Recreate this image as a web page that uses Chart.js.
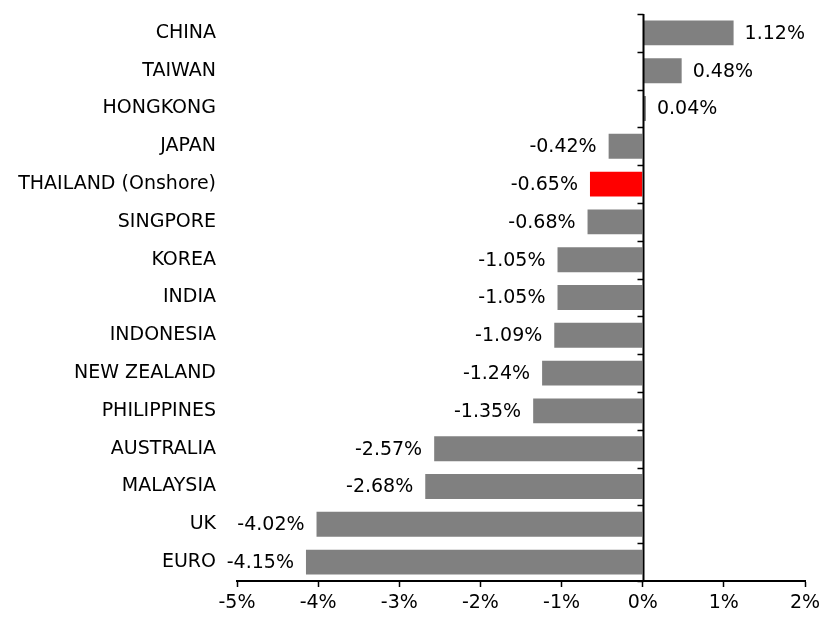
<!DOCTYPE html>
<html>
<head>
<meta charset="utf-8">
<script src="https://cdn.jsdelivr.net/npm/chart.js@4.4.0/dist/chart.umd.min.js"></script>
<style>
  html, body { margin: 0; padding: 0; background: #fff; }
  #wrap { width: 821px; height: 618px; }
</style>
</head>
<body>
<div id="wrap"><canvas id="fxChart" width="821" height="618"></canvas></div>
<script>
// ── Data ─────────────────────────────────────────────────────────────────────
const CURRENCIES = [
  'CHINA', 'TAIWAN', 'HONGKONG', 'JAPAN', 'THAILAND (Onshore)', 'SINGPORE',
  'KOREA', 'INDIA', 'INDONESIA', 'NEW ZEALAND', 'PHILIPPINES', 'AUSTRALIA',
  'MALAYSIA', 'UK', 'EURO',
];
const CHANGE_PCT = [
  1.12, 0.48, 0.04, -0.42, -0.65, -0.68,
  -1.05, -1.05, -1.09, -1.24, -1.35, -2.57,
  -2.68, -4.02, -4.15,
];
const HIGHLIGHT  = 'THAILAND (Onshore)';
const X_MIN = -5, X_MAX = 2, X_STEP = 1;

// ── Style ────────────────────────────────────────────────────────────────────
const FONT   = { family: '"DejaVu Sans", Verdana, sans-serif', size: 19 };
const GREY   = '#808080';
const RED    = '#ff0000';
const INK    = '#000';

// zero line + small category ticks on it, and value labels at bar ends
const axisAndLabels = {
  id: 'axisAndLabels',
  afterDatasetsDraw(chart) {
    const { ctx, chartArea, scales: { x, y } } = chart;
    const x0 = Math.round(x.getPixelForValue(0)) + 0.5;
    ctx.save();
    ctx.strokeStyle = INK;
    ctx.lineWidth = 2;
    ctx.beginPath();
    ctx.moveTo(x0, chartArea.top);
    ctx.lineTo(x0, chartArea.bottom);
    ctx.stroke();
    ctx.lineWidth = 1.5;
    ctx.beginPath();
    const step = (chartArea.bottom - chartArea.top) / CURRENCIES.length;
    for (let i = 0; i <= CURRENCIES.length; i++) {
      const yy = Math.round(y.getPixelForValue(i) - step / 2) + 0.5;
      ctx.moveTo(x0 - 6, yy);
      ctx.lineTo(x0, yy);
    }
    ctx.stroke();

    ctx.fillStyle = INK;
    ctx.font = `${FONT.size}px ${FONT.family}`;
    ctx.textBaseline = 'middle';
    chart.getDatasetMeta(0).data.forEach((bar, i) => {
      const v = CHANGE_PCT[i];
      const txt = v.toFixed(2) + '%';
      if (v >= 0) {
        ctx.textAlign = 'left';
        ctx.fillText(txt, bar.x + 11, bar.y + 1);
      } else {
        ctx.textAlign = 'right';
        ctx.fillText(txt, bar.x - 12, bar.y + 1);
      }
    });
    ctx.restore();
  },
};

new Chart(document.getElementById('fxChart').getContext('2d'), {
  type: 'bar',
  data: {
    labels: CURRENCIES,
    datasets: [{
      data: CHANGE_PCT,
      backgroundColor: CURRENCIES.map(c => c === HIGHLIGHT ? RED : GREY),
      borderWidth: 0,
      barPercentage: 0.66,
      categoryPercentage: 1,
    }],
  },
  options: {
    indexAxis: 'y',
    responsive: false,
    animation: false,
    layout: { padding: { top: 14, right: 16, left: 0, bottom: 0 } },
    plugins: { legend: { display: false }, tooltip: { enabled: false } },
    scales: {
      x: {
        min: X_MIN, max: X_MAX,
        ticks: {
          stepSize: X_STEP, color: INK, font: FONT, padding: 5,
          callback: v => v + '%',
        },
        grid: { drawOnChartArea: false, tickLength: 6, tickColor: INK, tickWidth: 1.5 },
        border: { display: true, color: INK, width: 2 },
        afterFit: s => { s.height = 37; s.paddingLeft = 0; s.paddingRight = 0; },
      },
      y: {
        ticks: { color: INK, font: FONT, padding: 21 },
        grid: { display: false, drawTicks: false },
        border: { display: false },
        afterFit: s => { s.width = 237; s.paddingTop = 0; s.paddingBottom = 0; },
      },
    },
  },
  plugins: [axisAndLabels],
});
</script>
</body>
</html>
